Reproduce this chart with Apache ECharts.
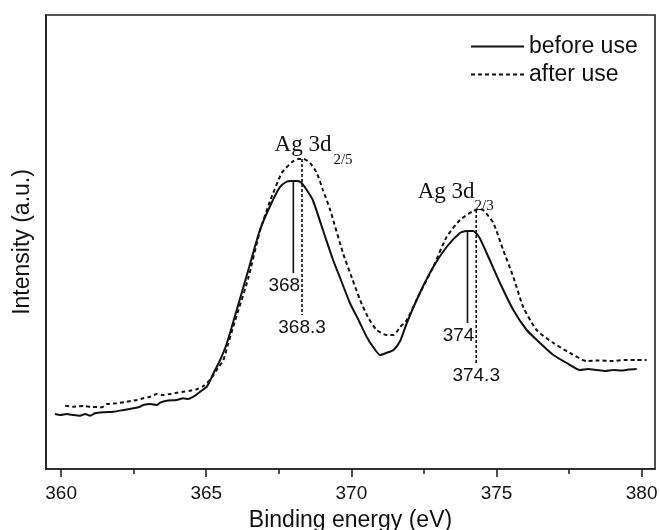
<!DOCTYPE html>
<html><head><meta charset="utf-8">
<script src="https://cdn.jsdelivr.net/npm/echarts@6/dist/echarts.min.js"></script>
<style>html,body{margin:0;padding:0;background:#fff}#c{width:660px;height:530px}</style>
</head><body><div id="c"></div>
<script>
const energyBefore = [359.79,359.97,360.20,360.42,360.65,360.83,361.00,361.17,361.46,361.80,362.15,362.49,362.72,362.83,363.07,363.30,363.41,363.64,363.98,364.21,364.38,364.56,364.79,365.02,365.25,365.48,365.71,366.05,366.44,366.85,367.20,367.54,367.75,367.90,368.10,368.25,368.44,368.67,369.02,369.37,369.64,369.95,370.23,370.53,370.75,370.99,371.20,371.45,371.68,371.91,372.36,372.82,373.28,373.74,373.95,374.20,374.40,374.66,375.12,375.58,376.04,376.50,376.96,377.42,377.88,378.15,378.45,378.75,379.02,379.30,379.55,379.83];
const intensityBefore = [55,54,55,54,53.3,55,53.3,55.7,56.7,57.3,59,60.7,62.3,64,65,64,66.3,68.3,69,70.7,70,72.3,77.3,82.3,95.7,109,125.7,159,198,239,263,282,287,288,288,287,280,269,239,209,189,166,150,132,122,114,116,119,128,146,176,202,222,236,238,238,232,216,186,159,139,126,114,106,99,100,99,98,99,98.5,99.5,100];
const energyAfter = [360.14,360.42,360.77,361.00,361.40,361.57,361.92,362.26,362.61,362.83,363.07,363.30,363.52,363.75,363.98,364.21,364.44,364.67,364.90,365.13,365.36,365.59,365.76,365.93,366.11,366.44,366.85,367.20,367.60,367.96,368.15,368.35,368.58,368.81,369.02,369.27,369.71,370.02,370.30,370.57,370.87,371.22,371.45,371.68,371.91,372.36,372.82,373.28,373.74,374.20,374.40,374.54,374.89,375.23,375.58,375.92,376.38,376.96,377.53,378.10,378.50,379.02,379.40,379.80,380.17];
const intensityAfter = [63.3,62.3,63,62.3,61.7,65,65.7,67.3,69,70.7,72.3,75,74,75,76.3,77.3,78.3,79.7,83,89,99,109,125.7,142.3,159,190,238,268,296,307,310,310,306,296,279,259,216,191,169,152,139,134,134,142,149,176,202,232,249,258,260,259,246,219,192,162,139,126,116,108,108.5,108,109,109,109];
const seriesNames = ['before use', 'after use'];
const xTickValues = [360, 365, 370, 375, 380];
const xMinorTickValues = [362.5, 367.5, 372.5, 377.5];
const markerEnergies = [368, 368.3, 374, 374.3];
const markerTops = [288, 310, 238, 259];
const markerBottoms = [196, 154, 146, 106];
const markerTexts = ['368', '368.3', '374', '374.3'];
const markerDashed = [false, true, false, true];
const peakTitleTexts = ['Ag 3d', 'Ag 3d'];
const peakSubTexts = ['2/5', '2/3'];
const peakAnchorEnergies = [368.3, 374.3];
const peakAnchorIntensities = [310, 259];

const X_MIN = 359.48, X_MAX = 380.46;
const INK = '#111';
const SANS = 'Liberation Sans, Arial, sans-serif';
const SERIF = 'Liberation Serif, Times New Roman, serif';

const zip = (a, b) => a.map((v, i) => [v, b[i]]);

const series = [
  { name: seriesNames[0], type: 'line', data: zip(energyBefore, intensityBefore), showSymbol: false, symbol: 'none', smooth: 0.2,
    lineStyle: { color: INK, width: 2 }, itemStyle: { color: INK }, z: 3 },
  { name: seriesNames[1], type: 'line', data: zip(energyAfter, intensityAfter), showSymbol: false, symbol: 'none', smooth: 0.2,
    lineStyle: { color: INK, width: 2, type: [4, 3] }, itemStyle: { color: INK }, z: 3 }
];

markerEnergies.forEach((e, i) => {
  series.push({
    type: 'line', data: [[e, markerTops[i]], [e, markerBottoms[i]]], symbol: 'none', silent: true,
    lineStyle: { color: INK, width: 1.6, type: markerDashed[i] ? [3, 2] : 'solid' }, z: 4
  });
  series.push({
    type: 'scatter', data: [[e, markerBottoms[i]]], symbolSize: 0, silent: true, itemStyle: { opacity: 1 },
    label: { show: true, position: 'bottom', distance: 3, offset: [markerDashed[i] ? 0 : -9, 0],
      formatter: markerTexts[i], fontFamily: SANS, fontSize: 19, color: INK, opacity: 1 }
  });
});

const titleOffsets = [[[1, -14], [41, 1]], [[-30, -18], [8, -4]]];
peakTitleTexts.forEach((t, i) => {
  series.push({
    type: 'scatter', data: [[peakAnchorEnergies[i], peakAnchorIntensities[i]]], symbolSize: 0, silent: true, itemStyle: { opacity: 1 },
    label: { show: true, position: 'inside', offset: titleOffsets[i][0], formatter: t,
      fontFamily: SERIF, fontSize: 23, color: INK }
  });
  series.push({
    type: 'scatter', data: [[peakAnchorEnergies[i], peakAnchorIntensities[i]]], symbolSize: 0, silent: true, itemStyle: { opacity: 1 },
    label: { show: true, position: 'inside', offset: titleOffsets[i][1], formatter: peakSubTexts[i],
      fontFamily: SERIF, fontSize: 15, color: INK }
  });
});

const option = {
  animation: false,
  backgroundColor: '#fff',
  grid: { left: 46, right: 5, top: 15, bottom: 61, show: true, borderColor: '#222', borderWidth: 1.6, backgroundColor: 'transparent',
    containLabel: false, outerBoundsMode: 'none' },
  legend: {
    data: seriesNames, orient: 'vertical', left: 470, top: 35, itemWidth: 53, itemHeight: 14, itemGap: 5, padding: 0,
    itemStyle: { opacity: 0 },
    textStyle: { fontFamily: SANS, fontSize: 23, color: INK }, selectedMode: false
  },
  xAxis: [
    { type: 'value', min: X_MIN, max: X_MAX, name: 'Binding energy (eV)', nameLocation: 'middle', nameGap: 40,
      nameTextStyle: { fontFamily: SANS, fontSize: 23, color: INK },
      axisLine: { show: true, lineStyle: { color: '#222', width: 1.6 } },
      axisTick: { show: true, customValues: xTickValues, length: 8, inside: false, lineStyle: { color: '#222', width: 1.6 } },
      axisLabel: { show: true, customValues: xTickValues, margin: 15, fontFamily: SANS, fontSize: 19, color: INK },
      splitLine: { show: false } },
    { type: 'value', min: X_MIN, max: X_MAX, position: 'bottom',
      axisLine: { show: false },
      axisTick: { show: true, customValues: xMinorTickValues, length: 5, lineStyle: { color: '#222', width: 1.6 } },
      axisLabel: { show: false }, splitLine: { show: false } }
  ],
  yAxis: {
    type: 'value', min: 0, max: 454, name: 'Intensity (a.u.)', nameLocation: 'middle', nameGap: 12,
    nameTextStyle: { fontFamily: SANS, fontSize: 23, color: INK },
    axisLine: { show: true, lineStyle: { color: '#222', width: 1.6 } },
    axisTick: { show: false }, axisLabel: { show: false }, splitLine: { show: false }
  },
  series: series
};

const chart = echarts.init(document.getElementById('c'), null, { renderer: 'canvas' });
chart.setOption(option);
</script>
</body></html>
